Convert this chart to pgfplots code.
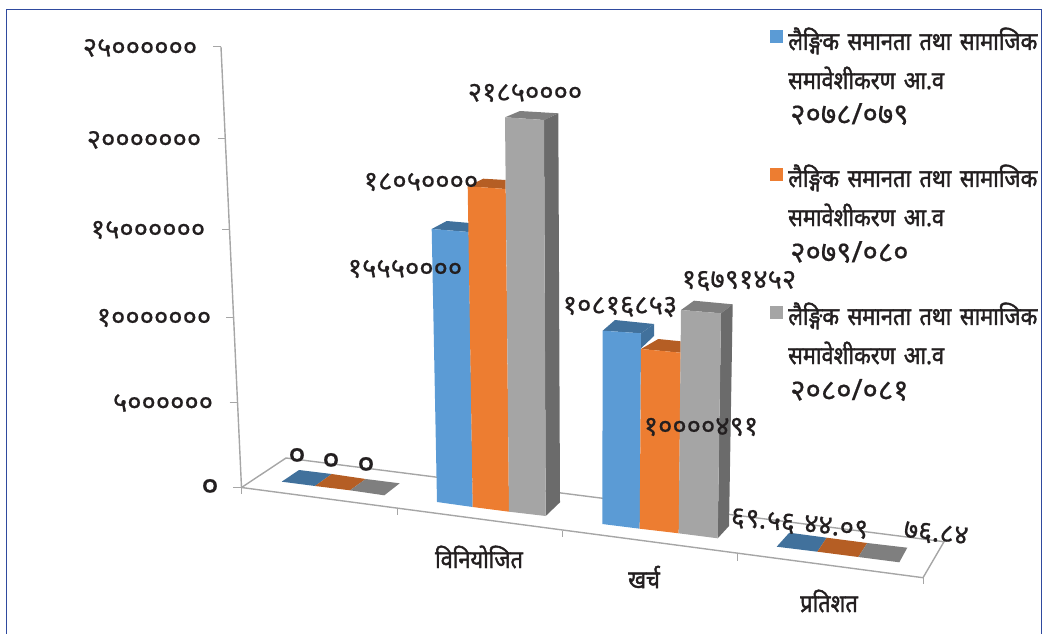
\documentclass[border=0pt]{standalone}
\usepackage{fontspec}
\usepackage{pgfplots}
\pgfplotsset{compat=1.18}
\setmainfont[Script=Devanagari]{Noto Sans}
\newfontfamily\digitfont[Script=Devanagari,FakeBold=0.6]{Noto Sans}
\newfontfamily\wordfont[Script=Devanagari,FakeBold=1.6,FakeStretch=0.87,WordSpace=1.5]{Noto Sans}
\definecolor{c_blue}{HTML}{5B9BD5}
\definecolor{c_orange}{HTML}{ED7D31}
\definecolor{c_gray}{HTML}{A5A5A5}
\definecolor{c_bluetop}{HTML}{41719C}
\definecolor{c_orangetop}{HTML}{B55E24}
\definecolor{c_graytop}{HTML}{7F7F7F}
\definecolor{c_grayside}{HTML}{6B6B6B}
\definecolor{c_axis}{HTML}{A6A6A6}
\definecolor{c_frame}{HTML}{2F4A9E}
\definecolor{c_ink}{HTML}{231F20}
\newcommand{\num}[3]{\node[font=\digitfont\fontsize{27.5}{27.5}\selectfont, text=c_ink] at (axis cs:#1,#2) {#3};}
\newcommand{\zero}[2]{\node[font=\digitfont\fontsize{34}{34}\selectfont, text=c_ink] at (axis cs:#1,#2) {०};}
\newcommand{\tiltnum}[3]{\node[font=\digitfont\fontsize{27.5}{27.5}\selectfont, text=c_ink, rotate=-6] at (axis cs:#1,#2) {#3};}
\newcommand{\word}[3]{\node[font=\wordfont\fontsize{25}{25}\selectfont, text=c_ink] at (axis cs:#1,#2) {#3};}
\newcommand{\legline}[3]{\node[anchor=west, inner sep=0pt, font=\wordfont\fontsize{25}{25}\selectfont, text=c_ink] at (axis cs:#1,#2) {#3};}
\newcommand{\legyear}[3]{\node[anchor=west, inner sep=0pt, font=\digitfont\fontsize{29.5}{29.5}\selectfont, text=c_ink] at (axis cs:#1,#2) {#3};}

\begin{document}
\begin{tikzpicture}
\useasboundingbox (0,0) rectangle (1044pt,634pt);
% the chart is a perspective view, so everything is plotted in picture pixels
\begin{axis}[
    at={(0,0)}, anchor=south west,
    scale only axis, width=1044pt, height=634pt,
    xmin=0, xmax=1044, ymin=0, ymax=634,
    y dir=reverse,
    hide axis,
    clip=false,
]

% frame
\addplot[c_frame, line width=1.3pt] coordinates {(6.5,634) (6.5,9.5) (1041.5,9.5) (1041.5,634)};

% floor and axis
\addplot[c_axis, line width=1.4pt] coordinates {(241.5,487.5) (286,458) (944,541.7) (923,577.7) (241.5,487.5)};
\addplot[c_axis, line width=1.4pt] coordinates {(221,47) (241.5,487.5)};
\addplot[c_axis, line width=1pt] coordinates {(213,47) (221,47)};
\addplot[c_axis, line width=1pt] coordinates {(217.5,138.5) (225.3,138.5)};
\addplot[c_axis, line width=1pt] coordinates {(222,229) (229.5,229)};
\addplot[c_axis, line width=1pt] coordinates {(226,317) (233.5,317)};
\addplot[c_axis, line width=1pt] coordinates {(229.5,402.5) (237.5,402.5)};
\addplot[c_axis, line width=1pt] coordinates {(233,487.5) (241.5,487.5)};
\addplot[c_axis, line width=1pt] coordinates {(241.5,487.5) (241.5,494)};
\addplot[c_axis, line width=1pt] coordinates {(397.5,508) (397.5,515)};
\addplot[c_axis, line width=1pt] coordinates {(562.7,530.5) (562.7,537)};
\addplot[c_axis, line width=1pt] coordinates {(737.7,554) (737.7,560.5)};
\addplot[c_axis, line width=1pt] coordinates {(923,577.7) (923,584)};

% first category, zero height
\addplot[fill=c_bluetop, draw=none] coordinates {(281.7,481.7) (299,470) (331.7,474) (315,486)} -- cycle;
\addplot[fill=c_orangetop, draw=none] coordinates {(315,486) (331.7,474) (365.7,479) (350,490.3)} -- cycle;
\addplot[fill=c_graytop, draw=none] coordinates {(350,490.3) (365.7,479) (399.7,483.3) (384.3,495.3)} -- cycle;

% second category
\addplot[fill=c_bluetop, draw=none] coordinates {(431.7,229) (446.7,221) (470,223) (468.7,232)} -- cycle;
\addplot[fill=c_blue, draw=none] coordinates {(431.7,229) (468.7,232) (472.7,507) (437,502)} -- cycle;
\addplot[fill=c_orangetop, draw=none] coordinates {(467.7,186.3) (483.3,178.7) (505.7,180) (505.7,189)} -- cycle;
\addplot[fill=c_orange, draw=none] coordinates {(467.7,186.3) (505.7,189) (509,511.7) (472.7,507)} -- cycle;
\addplot[fill=c_graytop, draw=none] coordinates {(505,117.3) (520,111) (558.3,113.3) (544,120)} -- cycle;
\addplot[fill=c_grayside, draw=none] coordinates {(544,120) (558.3,113.3) (560,502.3) (545.7,516)} -- cycle;
\addplot[fill=c_gray, draw=none] coordinates {(505,117.3) (544,120) (545.7,516) (509,511.7)} -- cycle;

% third category
\addplot[fill=c_bluetop, draw=none] coordinates {(602.7,330.7) (615,320) (654,324) (641,333.3)} -- cycle;
\addplot[fill=c_bluetop, draw=none] coordinates {(641,333.3) (654,324) (654,336) (641,348.3)} -- cycle;
\addplot[fill=c_blue, draw=none] coordinates {(602.7,330.7) (641,333.3) (639.7,528.7) (602.3,524)} -- cycle;
\addplot[fill=c_orangetop, draw=none] coordinates {(641,349) (658.3,339) (680.7,341.3) (680.7,352.7)} -- cycle;
\addplot[fill=c_orange, draw=none] coordinates {(641,349) (680.7,352.7) (678.7,533.3) (639.7,528.7)} -- cycle;
\addplot[fill=c_graytop, draw=none] coordinates {(681,310) (694,300.7) (732.7,304.3) (721,313.3)} -- cycle;
\addplot[fill=c_grayside, draw=none] coordinates {(721,313.3) (732.7,304.3) (729,526) (717.7,538.3)} -- cycle;
\addplot[fill=c_gray, draw=none] coordinates {(681,310) (721,313.3) (717.7,538.3) (678.7,533.3)} -- cycle;

% fourth category, next to nothing on this scale
\addplot[fill=c_bluetop, draw=none] coordinates {(776.7,546.7) (789.3,532.7) (826.7,537.7) (817.3,551.7)} -- cycle;
\addplot[fill=c_orangetop, draw=none] coordinates {(817.3,551.7) (826.7,537.7) (867.3,543) (858.3,557)} -- cycle;
\addplot[fill=c_graytop, draw=none] coordinates {(858.3,557) (867.3,543) (907.3,547.7) (899.3,562.3)} -- cycle;

% legend keys
\addplot[fill=c_blue, draw=none] coordinates {(770,30) (783,30) (783,43) (770,43)} -- cycle;
\addplot[fill=c_orange, draw=none] coordinates {(770,168) (783,168) (783,181) (770,181)} -- cycle;
\addplot[fill=c_gray, draw=none] coordinates {(770,306) (783,306) (783,319) (770,319)} -- cycle;

% value axis labels
\num{140}{48}{२५००००००}
\num{144}{140}{२०००००००}
\num{148}{230}{१५००००००}
\num{154}{318}{१०००००००}
\num{163}{403}{५००००००}
\zero{210}{488}

% data labels
\zero{297}{457}
\zero{331}{462}
\zero{366}{466}
\num{525}{93}{२१८५००००}
\num{421}{182}{१८०५००००}
\num{405}{269}{१५५५००००}
\num{620}{307}{१०८१६८५३}
\num{739}{281}{१६७९१४५२}
\num{701}{427}{१००००४९१}
\tiltnum{763}{521}{६९.५६}
\tiltnum{836}{527}{४४.०९}
\tiltnum{936}{534}{७६.८४}

% category labels
\word{479}{557}{विनियोजित}
\word{644}{577}{खर्च}
\word{829}{601}{प्रतिशत}

% legend text, it runs up to the frame on the right
\begin{scope}
\clip (axis cs:0,0) rectangle (axis cs:1041,634);
\legline{788}{41}{लैङ्गिक समानता तथा सामाजिक}
\legline{788}{78}{समावेशीकरण आ.व}
\legyear{790}{114}{२०७८/०७९}
\legline{788}{178}{लैङ्गिक समानता तथा सामाजिक}
\legline{788}{215}{समावेशीकरण आ.व}
\legyear{790}{252}{२०७९/०८०}
\legline{788}{316}{लैङ्गिक समानता तथा सामाजिक}
\legline{788}{353}{समावेशीकरण आ.व}
\legyear{790}{390}{२०८०/०८१}
\end{scope}

\end{axis}
\end{tikzpicture}
\end{document}
